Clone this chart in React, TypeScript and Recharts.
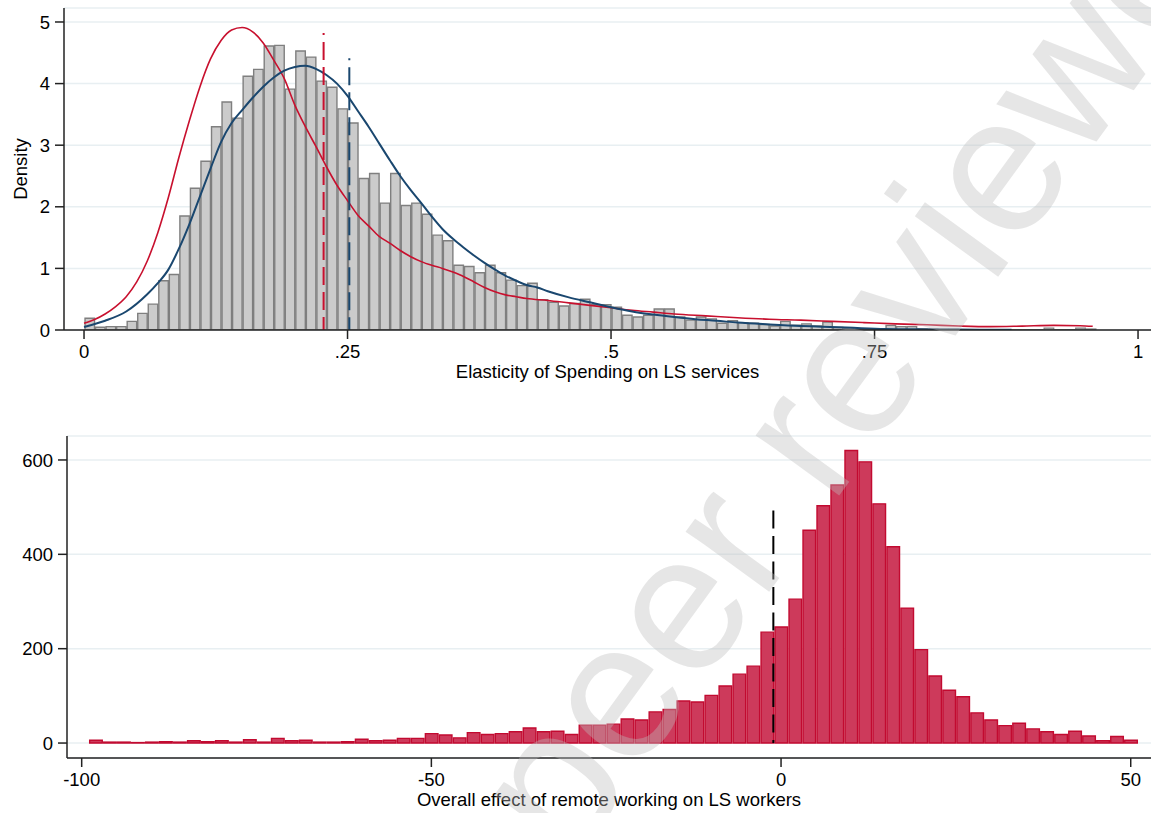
import React from "react";
import { ComposedChart, Bar, Line, XAxis, YAxis, CartesianGrid, ReferenceLine, Label } from "recharts";

const FONT = '"Liberation Sans", Arial, Helvetica, sans-serif';
const RED = "#c8102e";
const NAVY = "#1a476f";
const GRID = "#e8eff2";
const AXIS = "#222";

// top panel: density histogram, bins of .01 starting at 0
const elasticityBinStart = 0;
const elasticityBinWidth = 0.01;
const elasticityDensity = [
  0.19, 0.044, 0.054, 0.054, 0.14, 0.27, 0.42, 0.8, 0.9, 1.85,
  2.3, 2.74, 3.3, 3.7, 3.44, 4.12, 4.23, 4.61, 4.62, 3.91,
  4.53, 4.43, 4.04, 3.94, 3.59, 3.36, 2.46, 2.54, 2.06, 2.54,
  2.02, 2.06, 1.88, 1.54, 1.45, 1.05, 1.03, 0.93, 1.05, 0.93,
  0.81, 0.72, 0.76, 0.49, 0.45, 0.39, 0.43, 0.5, 0.41, 0.41,
  0.37, 0.24, 0.21, 0.24, 0.34, 0.34, 0.21, 0.16, 0.21, 0.18,
  0.11, 0.15, 0.12, 0.11, 0.09, 0.065, 0.14, 0.076, 0.1, 0.065,
  0.13, 0.04, 0.02, 0.015, 0.01, 0.01, 0.075, 0.055, 0.055, 0.02,
  0.015, 0.01, 0.01, 0.005, 0.005, 0.005, 0.005, 0.005, 0.005, 0.005,
  0.005, 0.03, 0.005, 0.005, 0.03, 0.015,
];

// kernel density curves
const kdeRedX = [
  0, 0.01, 0.02, 0.03, 0.04, 0.05, 0.06, 0.07, 0.08, 0.09,
  0.1, 0.11, 0.12, 0.13, 0.14, 0.15, 0.16, 0.17, 0.18, 0.19,
  0.2, 0.21, 0.22, 0.23, 0.24, 0.25, 0.26, 0.27, 0.28, 0.29,
  0.3, 0.31, 0.32, 0.33, 0.34, 0.35, 0.36, 0.37, 0.38, 0.39,
  0.4, 0.41, 0.42, 0.44, 0.46, 0.48, 0.5, 0.52, 0.54, 0.56,
  0.59, 0.62, 0.65, 0.68, 0.71, 0.74, 0.77, 0.8, 0.83, 0.86,
  0.89, 0.92, 0.945, 0.957,
];
const kdeRedY = [
  0.11, 0.17, 0.26, 0.38, 0.54, 0.78, 1.12, 1.58, 2.15, 2.8,
  3.4, 3.95, 4.4, 4.7, 4.87, 4.91, 4.84, 4.66, 4.38, 4.08,
  3.65, 3.3, 2.98, 2.65, 2.35, 2.1, 1.86, 1.69, 1.52, 1.41,
  1.29, 1.19, 1.11, 1.05, 1.0, 0.94, 0.87, 0.78, 0.69, 0.62,
  0.57, 0.54, 0.51, 0.48, 0.44, 0.4, 0.36, 0.32, 0.29, 0.26,
  0.23, 0.2, 0.175, 0.16, 0.14, 0.12, 0.1, 0.085, 0.065, 0.054,
  0.063, 0.075, 0.07, 0.06,
];
const kdeBlueX = [
  0, 0.02, 0.04, 0.06, 0.07, 0.08, 0.09, 0.1, 0.11, 0.12,
  0.13, 0.14, 0.15, 0.16, 0.17, 0.18, 0.19, 0.2, 0.21, 0.22,
  0.23, 0.24, 0.25, 0.26, 0.27, 0.28, 0.29, 0.3, 0.31, 0.32,
  0.33, 0.34, 0.35, 0.36, 0.37, 0.38, 0.39, 0.4, 0.41, 0.42,
  0.43, 0.44, 0.46, 0.48, 0.5, 0.52, 0.54, 0.56, 0.58, 0.6,
  0.62, 0.65, 0.68, 0.7, 0.73, 0.76, 0.8, 0.85, 0.88,
];
const kdeBlueY = [
  0.05, 0.15, 0.3, 0.58, 0.76, 0.98, 1.32, 1.72, 2.17, 2.62,
  3.05, 3.36, 3.57, 3.77, 3.95, 4.1, 4.21, 4.27, 4.29, 4.24,
  4.14, 4.0, 3.8, 3.55, 3.3, 3.03, 2.76, 2.5, 2.27, 2.06,
  1.84, 1.64, 1.48, 1.34, 1.21, 1.09, 0.98, 0.88, 0.8, 0.73,
  0.69, 0.63, 0.53, 0.45, 0.37, 0.3, 0.25, 0.21, 0.175, 0.15,
  0.12, 0.09, 0.065, 0.054, 0.035, 0.018, 0.01, 0.005, 0.003,
];

// dashed markers (red, blue) and how high they reach
const elasticityMarkerX = [0.2273, 0.2517];
const elasticityMarkerTop = [4.82, 4.41];

const elasticityTicks = [0, 0.25, 0.5, 0.75, 1];
const elasticityTickLabels = ["0", ".25", ".5", ".75", "1"];
const densityTicks = [0, 1, 2, 3, 4, 5];

// bottom panel: frequency histogram, bins of 2 starting at -99
const effectBinStart = -99;
const effectBinWidth = 2;
const effectCounts = [
  6, 2, 2, 1, 2, 3, 2, 5, 3, 5,
  2, 7, 2, 10, 5, 6, 2, 2, 3, 8,
  5, 6, 10, 10, 20, 17, 11, 22, 18, 20,
  24, 32, 24, 25, 18, 38, 38, 40, 51, 49,
  66, 71, 89, 87, 101, 121, 146, 163, 235, 246,
  305, 451, 503, 547, 620, 596, 507, 416, 286, 198,
  142, 112, 98, 64, 49, 37, 42, 30, 24, 18,
  25, 15, 5, 14, 6,
];
const effectMarkerX = -1.1;
const effectMarkerTop = 493;
const effectTicks = [-100, -50, 0, 50];
const countTicks = [0, 200, 400, 600];

const elasticityBars = elasticityDensity.map((d, i) => ({
  x: elasticityBinStart + (i + 0.5) * elasticityBinWidth,
  density: d,
}));
const kdeRed = kdeRedX.map((x, i) => ({ x, red: kdeRedY[i] }));
const kdeBlue = kdeBlueX.map((x, i) => ({ x, blue: kdeBlueY[i] }));
const effectBars = effectCounts.map((c, i) => ({
  x: effectBinStart + (i + 0.5) * effectBinWidth,
  count: c,
}));

const topDomain: [number, number] = [-0.019, 1.0123];
const bottomDomain: [number, number] = [-102.1, 52.9];
const W = 1151;
const topPlotW = W - 64;
const bottomPlotW = W - 67;
const topBarSize = (topPlotW * elasticityBinWidth) / (topDomain[1] - topDomain[0]);
const bottomBarSize = (bottomPlotW * effectBinWidth) / (bottomDomain[1] - bottomDomain[0]);

const tickStyle = { fill: "#000", fontSize: 18.5, fontFamily: FONT };
const axisStyle = { stroke: AXIS, strokeWidth: 1.5 };
const titleProps = { fill: "#000", fontSize: 18.5, fontFamily: FONT };

function YTitle(props: any) {
  const vb = props.viewBox || { x: 0, y: 8, width: 64, height: 322 };
  const cx = vb.x + 20;
  const cy = vb.y + vb.height / 2;
  return (
    <text x={cx} y={cy} transform={`rotate(-90 ${cx} ${cy})`} textAnchor="middle" dominantBaseline="central" {...titleProps}>
      Density
    </text>
  );
}

export default function App() {
  return (
    <div style={{ position: "absolute", left: 0, top: 0, width: W, height: 813, background: "#fff" }}>
      <div style={{ position: "absolute", left: 0, top: 0 }}>
        <ComposedChart width={W} height={390} data={elasticityBars} margin={{ top: 8, right: 0, bottom: 0, left: 0 }} barGap={0} barCategoryGap={0}>
          <CartesianGrid vertical={false} stroke={GRID} strokeWidth={1.5} />
          <XAxis
            type="number"
            dataKey="x"
            domain={topDomain}
            allowDataOverflow
            ticks={elasticityTicks}
            interval={0}
            tickFormatter={(v: number) => elasticityTickLabels[elasticityTicks.indexOf(v)] ?? String(v)}
            height={60}
            tickSize={9}
            tickMargin={6}
            tick={tickStyle}
            axisLine={axisStyle}
            tickLine={axisStyle}
          >
            <Label value="Elasticity of Spending on LS services" position="insideBottom" offset={12} {...titleProps} />
          </XAxis>
          <XAxis xAxisId="kde" type="number" dataKey="x" domain={topDomain} allowDataOverflow hide />
          <YAxis
            type="number"
            domain={[0, 5.227]}
            allowDataOverflow
            ticks={densityTicks}
            interval={0}
            width={64}
            tickSize={9}
            tickMargin={5}
            tick={tickStyle}
            axisLine={axisStyle}
            tickLine={axisStyle}
          >
            <Label content={YTitle} />
          </YAxis>
          <Bar dataKey="density" fill="#cbcbcb" stroke="#7f7f7f" strokeWidth={1.4} barSize={topBarSize} isAnimationActive={false} />
          <Line xAxisId="kde" data={kdeRed} dataKey="red" type="monotone" stroke={RED} strokeWidth={1.6} dot={false} activeDot={false} isAnimationActive={false} />
          <Line xAxisId="kde" data={kdeBlue} dataKey="blue" type="monotone" stroke={NAVY} strokeWidth={2} dot={false} activeDot={false} isAnimationActive={false} />
          <ReferenceLine
            segment={[{ x: elasticityMarkerX[0], y: elasticityMarkerTop[0] }, { x: elasticityMarkerX[0], y: 0 }]}
            stroke={RED}
            strokeWidth={2}
            strokeDasharray="18 7"
            strokeDashoffset={16}
            ifOverflow="visible"
          />
          <ReferenceLine
            segment={[{ x: elasticityMarkerX[1], y: elasticityMarkerTop[1] }, { x: elasticityMarkerX[1], y: 0 }]}
            stroke={NAVY}
            strokeWidth={2}
            strokeDasharray="18 7"
            strokeDashoffset={16}
            ifOverflow="visible"
          />
        </ComposedChart>
      </div>
      <div style={{ position: "absolute", left: 0, top: 400 }}>
        <ComposedChart width={W} height={413} data={effectBars} margin={{ top: 36, right: 0, bottom: 0, left: 0 }} barGap={0} barCategoryGap={0}>
          <CartesianGrid vertical={false} stroke={GRID} strokeWidth={1.5} />
          <XAxis
            type="number"
            dataKey="x"
            domain={bottomDomain}
            allowDataOverflow
            ticks={effectTicks}
            interval={0}
            height={55}
            tickSize={9}
            tickMargin={6}
            tick={tickStyle}
            axisLine={axisStyle}
            tickLine={axisStyle}
          >
            <Label value="Overall effect of remote working on LS workers" position="insideBottom" offset={7} {...titleProps} />
          </XAxis>
          <YAxis
            type="number"
            domain={[-31.7, 650.8]}
            allowDataOverflow
            ticks={countTicks}
            interval={0}
            width={67}
            tickSize={9}
            tickMargin={5}
            tick={tickStyle}
            axisLine={axisStyle}
            tickLine={axisStyle}
          />
          <Bar dataKey="count" fill="#cd3a5b" stroke="#c20a30" strokeWidth={1.4} barSize={bottomBarSize} isAnimationActive={false} />
          <ReferenceLine
            segment={[{ x: effectMarkerX, y: effectMarkerTop }, { x: effectMarkerX, y: 0 }]}
            stroke="#000"
            strokeWidth={2}
            strokeDasharray="18 7.5"
            ifOverflow="visible"
          />
        </ComposedChart>
      </div>
      <svg width={W} height={813} style={{ position: "absolute", left: 0, top: 0, pointerEvents: "none" }}>
        <text
          x={570}
          y={866}
          transform="rotate(-54 570 866)"
          fontSize={195}
          fontFamily={FONT}
          fill="rgba(190,190,190,0.38)"
        >
          peer reviewed
        </text>
      </svg>
    </div>
  );
}
